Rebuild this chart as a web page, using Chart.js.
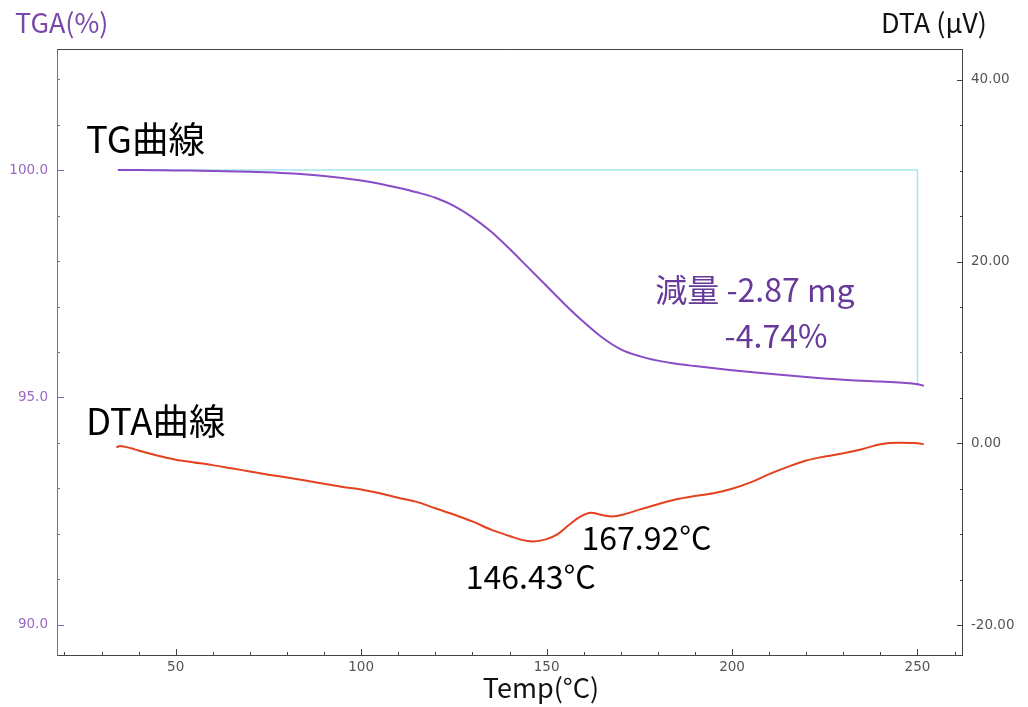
<!DOCTYPE html>
<html>
<head>
<meta charset="utf-8">
<title>TG / DTA</title>
<script src="https://cdn.jsdelivr.net/npm/chart.js@4.4.1/dist/chart.umd.min.js"></script>
<style>
  html, body { margin: 0; padding: 0; background: #fff; }
  #wrap { width: 1028px; height: 707px; }
</style>
</head>
<body>
<div id="wrap"><canvas id="tgaChart"></canvas></div>
<script>
// TG / DTA curves

var tgTemp = [34.4, 40, 50, 60, 70, 80, 90, 100, 105, 110, 115, 120, 125, 130, 135, 140, 145, 150,
              155, 160, 165, 170, 175, 180, 185, 190, 200, 210, 220, 230, 240, 250, 251.7];
var tgValue = [100.00, 100.00, 99.99, 99.98, 99.96, 99.93, 99.87, 99.77, 99.70, 99.61, 99.51, 99.39,
               99.21, 98.96, 98.65, 98.27, 97.86, 97.45, 97.04, 96.66, 96.32, 96.06, 95.91, 95.81,
               95.74, 95.69, 95.60, 95.52, 95.45, 95.39, 95.35, 95.29, 95.26];

var dtaTemp = [34.0, 35.0, 38, 40, 45, 50, 55, 60, 65, 70, 75, 80, 85, 90, 95, 100, 105, 110, 115,
               120, 125, 130, 135, 140, 143, 146.43, 150, 153, 156, 159, 162, 165, 167.92, 171, 175,
               180, 185, 190, 195, 200, 205, 210, 215, 220, 225, 230, 235, 240, 245, 250, 251.7];
var dtaValue = [-0.45, -0.30, -0.55, -0.80, -1.35, -1.80, -2.10, -2.40, -2.75, -3.10, -3.45, -3.77,
                -4.10, -4.45, -4.80, -5.08, -5.50, -5.99, -6.45, -7.15, -7.83, -8.60, -9.50, -10.20,
                -10.60, -10.80, -10.55, -10.00, -9.00, -8.10, -7.65, -7.90, -8.05, -7.80, -7.30,
                -6.70, -6.15, -5.80, -5.50, -5.00, -4.30, -3.40, -2.60, -1.90, -1.45, -1.10, -0.65,
                -0.10, 0.05, 0.00, -0.10];

// mass-loss bracket (start plateau -> end of run)
var lossTemp = [34.4, 250, 250];
var lossValue = [100, 100, 95.26];

function pts(xs, ys) {
    return xs.map(function (x, i) { return { x: x, y: ys[i] }; });
}

var CJK = "'Noto Sans CJK JP', 'Noto Sans', sans-serif";
var TICKFONT = { family: "'DejaVu Sans', Verdana, sans-serif", size: 13.5 };

// inward tick marks, top frame line, titles and curve notes
var decorations = {
    id: "decorations",
    afterDraw: function (chart) {
        var ctx = chart.ctx;
        var a = chart.chartArea;
        var sx = chart.scales.x, sl = chart.scales.yTG, sr = chart.scales.yDTA;

        ctx.save();
        ctx.lineWidth = 1;

        ctx.strokeStyle = "#444";
        ctx.beginPath();
        ctx.moveTo(a.left, a.top + 0.5);
        ctx.lineTo(a.right + 0.5, a.top + 0.5);
        ctx.stroke();

        sx.ticks.forEach(function (t) {
            var p = Math.round(sx.getPixelForValue(t.value)) + 0.5;
            var len = Math.abs(t.value % 50) < 1e-6 ? 6 : 3;
            ctx.beginPath();
            ctx.moveTo(p, a.bottom);
            ctx.lineTo(p, a.bottom - len);
            ctx.stroke();
        });

        sr.ticks.forEach(function (t) {
            var p = Math.round(sr.getPixelForValue(t.value)) + 0.5;
            var len = Math.abs(t.value % 20) < 1e-6 ? 5 : 2;
            ctx.beginPath();
            ctx.moveTo(a.right, p);
            ctx.lineTo(a.right - len, p);
            ctx.stroke();
        });

        ctx.strokeStyle = "#8e5cb8";
        sl.ticks.forEach(function (t) {
            var p = Math.round(sl.getPixelForValue(t.value)) + 0.5;
            var len = Math.abs(t.value % 5) < 1e-6 ? 7 : 3;
            ctx.beginPath();
            ctx.moveTo(a.left, p);
            ctx.lineTo(a.left + len, p);
            ctx.stroke();
        });

        // axis titles
        ctx.textBaseline = "middle";
        ctx.font = "27px " + CJK;
        ctx.fillStyle = "#7a48aa";
        ctx.textAlign = "left";
        ctx.fillText("TGA(%)", 15, 23);
        ctx.fillStyle = "#111";
        ctx.textAlign = "right";
        ctx.fillText("DTA (\u03bcV)", 987, 23);
        ctx.textAlign = "center";
        ctx.fillText("Temp(\u00b0C)", 541, 688);

        // curve names and results
        ctx.textAlign = "left";
        ctx.font = "36.5px " + CJK;
        ctx.fillStyle = "#000";
        ctx.fillText("TG曲線", sx.getPixelForValue(25.8), sl.getPixelForValue(100.68));
        ctx.fillText("DTA曲線", sx.getPixelForValue(25.8), sl.getPixelForValue(94.48));

        ctx.font = "32px " + CJK;
        ctx.fillStyle = "#673a9a";
        ctx.fillText("減量 -2.87 mg", sx.getPixelForValue(179.3), sl.getPixelForValue(97.36));
        ctx.fillText("-4.74%", sx.getPixelForValue(198.0), sl.getPixelForValue(96.35));

        ctx.fillStyle = "#000";
        ctx.fillText("146.43\u00b0C", sx.getPixelForValue(128.2), sr.getPixelForValue(-14.75));
        ctx.fillText("167.92\u00b0C", sx.getPixelForValue(159.4), sr.getPixelForValue(-10.46));

        ctx.restore();
    }
};

new Chart(document.getElementById("tgaChart"), {
    type: "scatter",
    data: {
        datasets: [
            {
                label: "TG",
                data: pts(tgTemp, tgValue),
                yAxisID: "yTG",
                showLine: true,
                borderColor: "#8a4cc6",
                borderWidth: 2,
                pointRadius: 0,
                cubicInterpolationMode: "monotone",
                order: 1
            },
            {
                label: "DTA",
                data: pts(dtaTemp, dtaValue),
                yAxisID: "yDTA",
                showLine: true,
                borderColor: "#e4421e",
                borderWidth: 2,
                pointRadius: 0,
                cubicInterpolationMode: "monotone",
                order: 1
            },
            {
                label: "loss",
                data: pts(lossTemp, lossValue),
                yAxisID: "yTG",
                showLine: true,
                borderColor: "#a6e6ee",
                borderWidth: 1.5,
                pointRadius: 0,
                order: 2
            }
        ]
    },
    options: {
        responsive: true,
        maintainAspectRatio: false,
        animation: false,
        layout: { padding: { top: 49, left: 0, right: 0, bottom: 0 } },
        plugins: {
            legend: { display: false },
            tooltip: { enabled: false }
        },
        scales: {
            x: {
                type: "linear",
                min: 18,
                max: 262,
                grid: { display: false, drawTicks: false },
                border: { color: "#444", width: 1 },
                ticks: {
                    stepSize: 10,
                    includeBounds: false,
                    maxRotation: 0,
                    autoSkip: false,
                    padding: 4,
                    color: "#555",
                    font: TICKFONT,
                    callback: function (v) { return v % 50 === 0 ? String(v) : ""; }
                },
                afterFit: function (s) { s.height = 52; }
            },
            yTG: {
                type: "linear",
                position: "left",
                min: 89.34,
                max: 102.66,
                grid: { display: false, drawTicks: false },
                border: { color: "#8e5cb8", width: 1 },
                ticks: {
                    stepSize: 1,
                    includeBounds: false,
                    autoSkip: false,
                    padding: 9,
                    color: "#9a68c4",
                    font: TICKFONT,
                    callback: function (v) { return Math.abs(v % 5) < 1e-6 ? v.toFixed(1) : ""; }
                },
                afterFit: function (s) { s.width = 57; }
            },
            yDTA: {
                type: "linear",
                position: "right",
                min: -23.3,
                max: 43.4,
                grid: { display: false, drawTicks: false },
                border: { color: "#444", width: 1 },
                ticks: {
                    stepSize: 5,
                    includeBounds: false,
                    autoSkip: false,
                    padding: 9,
                    color: "#555",
                    font: TICKFONT,
                    callback: function (v) { return Math.abs(v % 20) < 1e-6 ? v.toFixed(2) : ""; }
                },
                afterFit: function (s) { s.width = 66; }
            }
        }
    },
    plugins: [decorations]
});
</script>
</body>
</html>
